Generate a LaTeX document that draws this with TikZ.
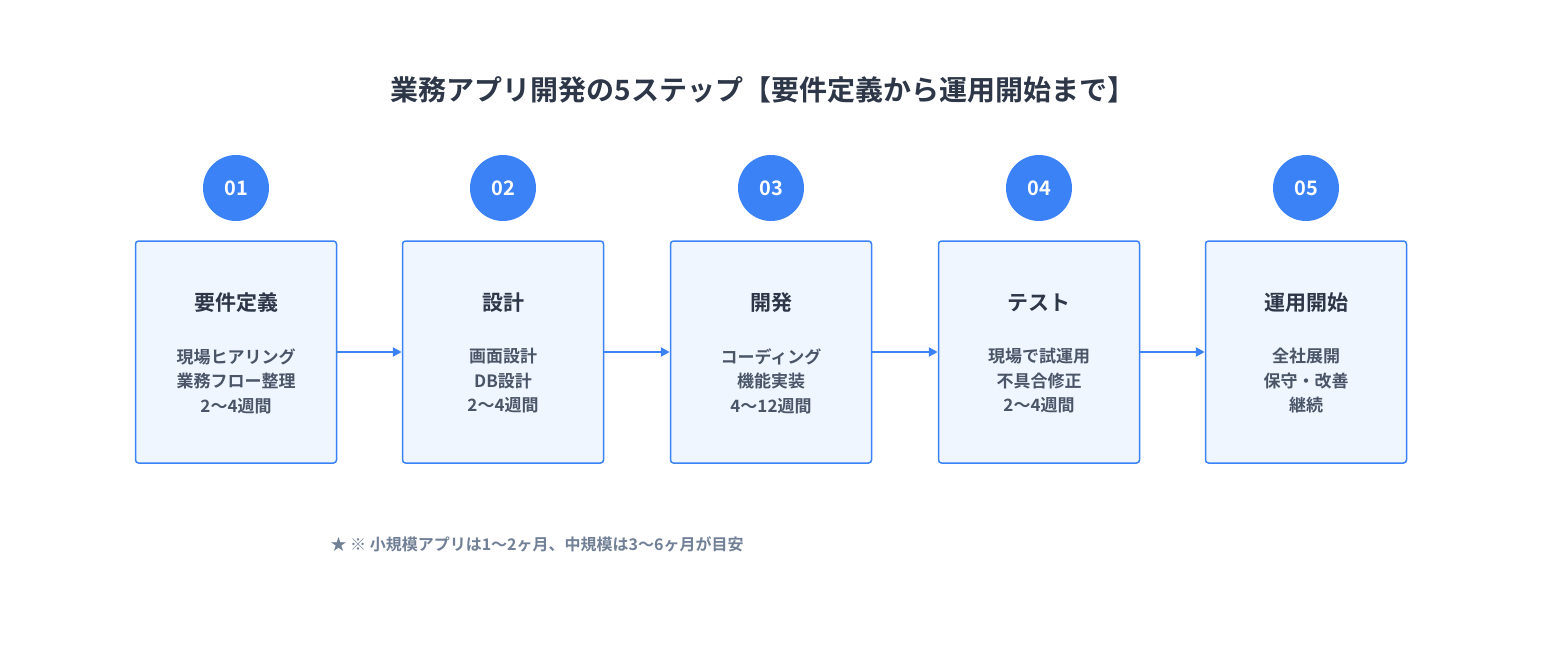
\documentclass[tikz,border=0pt]{standalone}
\usepackage{fontspec}
\setmainfont{Noto Sans CJK JP}
\newfontfamily\jpb{Noto Sans CJK JP Bold}
\usetikzlibrary{arrows.meta}
\definecolor{cblue}{HTML}{3B82F6}
\definecolor{cfill}{HTML}{EFF6FF}
\definecolor{cdark}{HTML}{2D3748}
\definecolor{csub}{HTML}{4A5568}
\definecolor{cfoot}{HTML}{718096}
\begin{document}
\begin{tikzpicture}[x=1pt,y=-1pt,
  stepbox/.style={draw=cblue,line width=1.5pt,fill=cfill,rounded corners=3pt,minimum width=201pt,minimum height=222pt,inner sep=0pt},
  numc/.style={circle,fill=cblue,minimum size=66pt,inner sep=0pt,text=white,font=\jpb\fontsize{20}{24}\selectfont},
  btitle/.style={text=cdark,font=\jpb\fontsize{21}{25}\selectfont},
  bsub/.style={text=csub,align=center,font=\jpb\fontsize{17}{24.5}\selectfont},
  arr/.style={draw=cblue,line width=2.5pt,-{Triangle[length=9pt,width=9pt]}}]
\useasboundingbox[fill=white] (0,0) rectangle (1543,667);
\node[text=cdark,font=\jpb\fontsize{28}{32}\selectfont] (title) at (763,90) {業務アプリ開発の5ステップ【要件定義から運用開始まで】};
\foreach \i/\x/\t/\s in {1/236/要件定義/{現場ヒアリング\\業務フロー整理\\2〜4週間},
  2/503/設計/{画面設計\\DB設計\\2〜4週間},
  3/771/開発/{コーディング\\機能実装\\4〜12週間},
  4/1039/テスト/{現場で試運用\\不具合修正\\2〜4週間},
  5/1306/運用開始/{全社展開\\保守・改善\\継続}}{
  \node[stepbox] (b\i) at (\x,352) {};
  \node[numc] (n\i) at (\x,188) {0\i};
  \node[btitle] (t\i) at (\x,303) {\t};
  \node[bsub] (s\i) at (\x,381) {\s};
}
\foreach \a/\b in {1/2,2/3,3/4,4/5}{\draw[arr] (b\a.east) -- (b\b.west);}
\node[anchor=west,text=cfoot,font=\jpb\fontsize{16}{20}\selectfont] (foot) at (327,544) {★ ※ 小規模アプリは1〜2ヶ月、中規模は3〜6ヶ月が目安};
\end{tikzpicture}
\end{document}
